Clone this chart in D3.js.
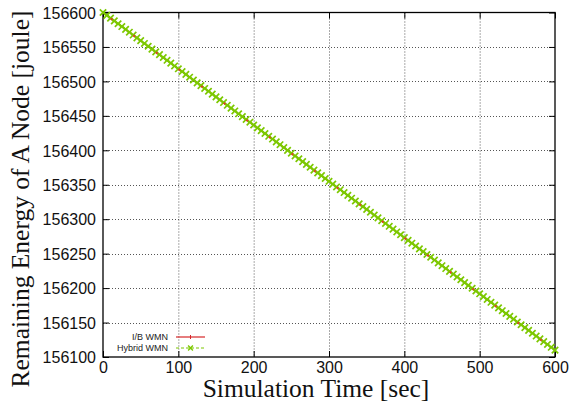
<!DOCTYPE html>
<html>
<head>
<meta charset="utf-8">
<script src="https://cdn.jsdelivr.net/npm/d3@7"></script>
<style>
  body { margin: 0; background: #fff; }
  svg { display: block; }
</style>
</head>
<body>
<svg id="chart" width="574" height="405"></svg>
<script>
// ---- data ----
const times = [0,5,10,15,20,25,30,35,40,45,50,55,60,65,70,75,80,85,90,95,
  100,105,110,115,120,125,130,135,140,145,150,155,160,165,170,175,180,185,190,195,
  200,205,210,215,220,225,230,235,240,245,250,255,260,265,270,275,280,285,290,295,
  300,305,310,315,320,325,330,335,340,345,350,355,360,365,370,375,380,385,390,395,
  400,405,410,415,420,425,430,435,440,445,450,455,460,465,470,475,480,485,490,495,
  500,505,510,515,520,525,530,535,540,545,550,555,560,565,570,575,580,585,590,595,600];
const ibWmn = [156600.0,156595.9,156591.8,156587.8,156583.7,156579.6,156575.5,156571.4,156567.3,156563.2,
  156559.2,156555.1,156551.0,156546.9,156542.8,156538.8,156534.7,156530.6,156526.5,156522.4,
  156518.3,156514.3,156510.2,156506.1,156502.0,156497.9,156493.8,156489.8,156485.7,156481.6,
  156477.5,156473.4,156469.3,156465.3,156461.2,156457.1,156453.0,156448.9,156444.8,156440.8,
  156436.7,156432.6,156428.5,156424.4,156420.3,156416.3,156412.2,156408.1,156404.0,156399.9,
  156395.8,156391.8,156387.7,156383.6,156379.5,156375.4,156371.3,156367.3,156363.2,156359.1,
  156355.0,156350.9,156346.8,156342.8,156338.7,156334.6,156330.5,156326.4,156322.3,156318.3,
  156314.2,156310.1,156306.0,156301.9,156297.8,156293.8,156289.7,156285.6,156281.5,156277.4,
  156273.3,156269.3,156265.2,156261.1,156257.0,156252.9,156248.8,156244.8,156240.7,156236.6,
  156232.5,156228.4,156224.3,156220.3,156216.2,156212.1,156208.0,156203.9,156199.8,156195.8,
  156191.7,156187.6,156183.5,156179.4,156175.3,156171.3,156167.2,156163.1,156159.0,156154.9,
  156150.8,156146.8,156142.7,156138.6,156134.5,156130.4,156126.3,156122.3,156118.2,156114.1,156110.0];
const hybridWmn = [156600.0,156595.9,156591.8,156587.8,156583.7,156579.6,156575.5,156571.4,156567.3,156563.2,
  156559.2,156555.1,156551.0,156546.9,156542.8,156538.8,156534.7,156530.6,156526.5,156522.4,
  156518.3,156514.3,156510.2,156506.1,156502.0,156497.9,156493.8,156489.8,156485.7,156481.6,
  156477.5,156473.4,156469.3,156465.3,156461.2,156457.1,156453.0,156448.9,156444.8,156440.8,
  156436.7,156432.6,156428.5,156424.4,156420.3,156416.3,156412.2,156408.1,156404.0,156399.9,
  156395.8,156391.8,156387.7,156383.6,156379.5,156375.4,156371.3,156367.3,156363.2,156359.1,
  156355.0,156350.9,156346.8,156342.8,156338.7,156334.6,156330.5,156326.4,156322.3,156318.3,
  156314.2,156310.1,156306.0,156301.9,156297.8,156293.8,156289.7,156285.6,156281.5,156277.4,
  156273.3,156269.3,156265.2,156261.1,156257.0,156252.9,156248.8,156244.8,156240.7,156236.6,
  156232.5,156228.4,156224.3,156220.3,156216.2,156212.1,156208.0,156203.9,156199.8,156195.8,
  156191.7,156187.6,156183.5,156179.4,156175.3,156171.3,156167.2,156163.1,156159.0,156154.9,
  156150.8,156146.8,156142.7,156138.6,156134.5,156130.4,156126.3,156122.3,156118.2,156114.1,156110.0];
const xTicks = [0,100,200,300,400,500,600];
const yTicks = [156100,156150,156200,156250,156300,156350,156400,156450,156500,156550,156600];
const seriesNames = ["I/B WMN","Hybrid WMN"];
const xTitle = "Simulation Time [sec]";
const yTitle = "Remaining Energy of A Node [joule]";

// ---- layout ----
const svg = d3.select("#chart");
const L = 103, R = 555, T = 12.5, B = 357;
const x = d3.scaleLinear().domain([0,600]).range([L,R]);
const y = d3.scaleLinear().domain([156100,156600]).range([B,T]);
const red = "#d62728", redC = "#e8342a", green = "#7cc800";
const sans = "'Liberation Sans', Arial, Helvetica, sans-serif";
const serif = "'Liberation Serif', 'Times New Roman', serif";

// grid
const grid = svg.append("g").attr("stroke","#555").attr("stroke-width",1).attr("stroke-dasharray","1,2");
xTicks.slice(1,-1).forEach(t => grid.append("line")
  .attr("x1",x(t)+0.5).attr("x2",x(t)+0.5).attr("y1",T).attr("y2",B));
yTicks.slice(1,-1).forEach(t => grid.append("line")
  .attr("x1",L).attr("x2",R).attr("y1",Math.round(y(t))+0.5).attr("y2",Math.round(y(t))+0.5));

// axes with inner ticks (mirrored)
const fmt = d3.format("d");
const axB = svg.append("g").attr("transform",`translate(0,${B})`)
  .call(d3.axisBottom(x).tickValues(xTicks).tickSizeInner(-6).tickSizeOuter(0).tickPadding(5).tickFormat(fmt));
const axT = svg.append("g").attr("transform",`translate(0,${T})`)
  .call(d3.axisTop(x).tickValues(xTicks).tickSizeInner(-6).tickSizeOuter(0).tickFormat(""));
const axL = svg.append("g").attr("transform",`translate(${L},0)`)
  .call(d3.axisLeft(y).tickValues(yTicks).tickSizeInner(-6).tickSizeOuter(0).tickPadding(7).tickFormat(fmt));
const axR = svg.append("g").attr("transform",`translate(${R},0)`)
  .call(d3.axisRight(y).tickValues(yTicks).tickSizeInner(-6).tickSizeOuter(0).tickFormat(""));
[axB,axT,axL,axR].forEach(a => {
  a.select(".domain").remove();
  a.selectAll("line").attr("stroke","#000").attr("stroke-width",1);
  a.selectAll("text").attr("font-family",sans).attr("font-size",16).attr("fill","#111");
});
axB.selectAll("text").attr("dy","0.71em");
axL.selectAll("text").attr("dy","0.36em");

// frame
svg.append("rect").attr("x",L).attr("y",T).attr("width",R-L).attr("height",B-T)
  .attr("fill","none").attr("stroke","#000").attr("stroke-width",1.3);

// series
const plot = svg.append("g");
const ptsR = times.map((t,i)=>[t, ibWmn[i]]);
const ptsG = times.map((t,i)=>[t, hybridWmn[i]]);
const line = d3.line().x(d=>x(d[0])).y(d=>y(d[1]));
plot.append("path").datum(ptsR).attr("d",line).attr("fill","none").attr("stroke",red).attr("stroke-width",1.2);
plot.append("path").datum(ptsG).attr("d",line).attr("fill","none").attr("stroke",green)
  .attr("stroke-width",1.2).attr("stroke-dasharray","3,2");
const sG = 3.2;
plot.selectAll("path.xm").data(ptsG).enter().append("path").attr("class","xm")
  .attr("d",d=>{const cx=x(d[0]), cy=y(d[1]);
    return `M${cx-sG},${cy-sG}L${cx+sG},${cy+sG}M${cx-sG},${cy+sG}L${cx+sG},${cy-sG}`;})
  .attr("stroke",green).attr("stroke-width",1.7).attr("fill","none");
const sR = 1.2;
plot.selectAll("path.pm").data(ptsR.filter((d,i)=>i%6===2)).enter().append("path").attr("class","pm")
  .attr("d",d=>{const cx=x(d[0])+1, cy=y(d[1])+1;
    return `M${cx-sR},${cy}L${cx+sR},${cy}M${cx},${cy-sR}L${cx},${cy+sR}`;})
  .attr("stroke",redC).attr("stroke-width",1);

// legend
const lg = svg.append("g").attr("font-family",sans).attr("font-size",9).attr("fill","#222");
const legY = [337, 348];
seriesNames.forEach((n,i)=>{
  lg.append("text").attr("x",168).attr("y",legY[i]).attr("dy","0.35em").attr("text-anchor","end").text(n);
});
lg.append("line").attr("x1",176).attr("x2",205).attr("y1",legY[0]).attr("y2",legY[0]).attr("stroke",red).attr("stroke-width",1.2);
lg.append("path").attr("d",`M190.5,${legY[0]-2}V${legY[0]+2}`).attr("stroke",red).attr("stroke-width",1);
lg.append("line").attr("x1",176).attr("x2",205).attr("y1",legY[1]).attr("y2",legY[1]).attr("stroke",green)
  .attr("stroke-width",1.2).attr("stroke-dasharray","3,2");
const sl = 2.4;
lg.append("path").attr("d",`M${190.5-sl},${legY[1]-sl}L${190.5+sl},${legY[1]+sl}M${190.5-sl},${legY[1]+sl}L${190.5+sl},${legY[1]-sl}`)
  .attr("stroke",green).attr("stroke-width",1.4);

// titles
svg.append("text").attr("x",316).attr("y",397).attr("text-anchor","middle")
  .attr("font-family",serif).attr("font-size",25.5).attr("fill","#111").text(xTitle);
svg.append("text").attr("transform",`translate(29,199) rotate(-90)`).attr("text-anchor","middle")
  .attr("font-family",serif).attr("font-size",25.5).attr("fill","#111").text(yTitle);
</script>
</body>
</html>
